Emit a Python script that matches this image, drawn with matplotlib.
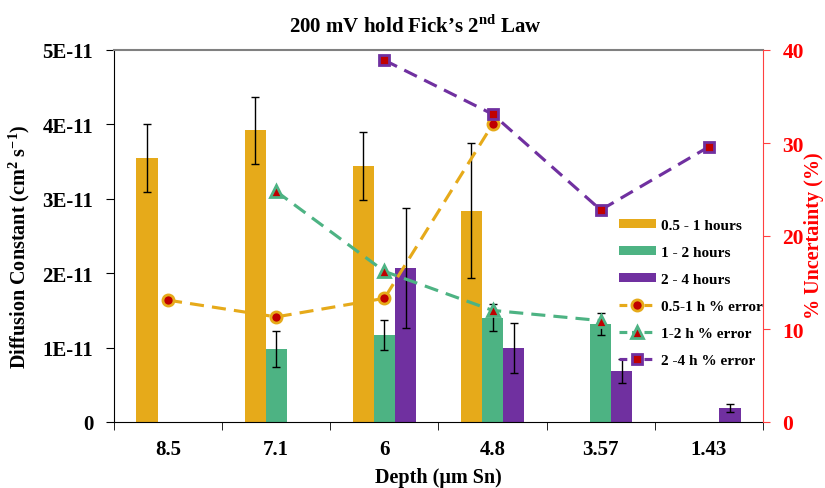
import matplotlib
matplotlib.use("Agg")
import matplotlib.pyplot as plt
import numpy as np
from matplotlib.lines import Line2D
from matplotlib.patches import Patch

plt.rcParams['font.family'] = ['Liberation Serif', 'DejaVu Serif']
plt.rcParams['mathtext.fontset'] = 'custom'
plt.rcParams['mathtext.rm'] = 'Liberation Serif'
plt.rcParams['mathtext.bf'] = 'Liberation Serif:bold'

depths = ["8.5", "7.1", "6", "4.8", "3.57", "1.43"]

# Diffusion constants (cm^2/s), None = no bar
d_05_1 = [3.55e-11, 3.92e-11, 3.44e-11, 2.84e-11, None, None]
e_05_1 = [0.46e-11, 0.45e-11, 0.46e-11, 0.91e-11, None, None]
d_1_2 = [None, 0.98e-11, 1.17e-11, 1.40e-11, 1.32e-11, None]
e_1_2 = [None, 0.245e-11, 0.20e-11, 0.18e-11, 0.15e-11, None]
d_2_4 = [None, None, 2.07e-11, 0.99e-11, 0.69e-11, 0.19e-11]
e_2_4 = [None, None, 0.81e-11, 0.335e-11, 0.16e-11, 0.055e-11]

# % uncertainty
p_05_1 = [13.1, 11.3, 13.3, 32.0, None, None]
p_1_2 = [None, 24.8, 16.2, 12.0, 10.9, None]
p_2_4 = [None, None, 38.9, 33.1, 22.8, 29.6]

c_or = '#E6AA1A'
c_gr = '#4DB383'
c_pu = '#7030A0'
c_red = '#C00000'

fig = plt.figure(figsize=(8.25, 4.89), dpi=100)
ax = fig.add_axes([114/825, 1-423/489, (763-114)/825, (423-51)/489])
ax2 = ax.twinx()

x = np.arange(len(depths))
w = 0.195

def arr(v):
    return np.array([np.nan if a is None else a for a in v], dtype=float)

for vals, errs, off, col, lab in [(d_05_1, e_05_1, -w, c_or, '0.5 - 1 hours'),
                                  (d_1_2, e_1_2, 0, c_gr, '1 - 2 hours'),
                                  (d_2_4, e_2_4, w, c_pu, '2 - 4 hours')]:
    v = arr(vals); e = arr(errs)
    m = ~np.isnan(v)
    ax.bar(x[m] + off, v[m], width=w, color=col, zorder=2)
    ax.errorbar(x[m] + off, v[m], yerr=e[m], fmt='none', ecolor='black',
                elinewidth=1, capsize=3, capthick=1, zorder=3)

ax.set_xlim(-0.5, len(depths) - 0.5)
ax.set_ylim(0, 5e-11)
ax.set_yticks([0, 1e-11, 2e-11, 3e-11, 4e-11, 5e-11])
ax.set_yticklabels(['0', '1E-11', '2E-11', '3E-11', '4E-11', '5E-11'],
                   fontsize=15, fontweight='bold')
ax.set_xticks(x)
ax.set_xticklabels(depths, fontsize=15, fontweight='bold')
ax.tick_params(axis='x', length=0, pad=12)
ax.set_xticks(np.arange(len(depths) + 1) - 0.5, minor=True)
ax.tick_params(axis='x', which='minor', length=6, direction='out', color='black')
ax.tick_params(axis='y', length=6, direction='out', pad=9)

ax.spines['top'].set_color('#808080')
ax.spines['top'].set_linewidth(1.5)
ax.spines['right'].set_visible(False)
ax2.spines['top'].set_visible(False)
ax2.spines['left'].set_visible(False)
ax2.spines['bottom'].set_visible(False)
ax2.spines['right'].set_color('#FF4040')

ax.set_ylabel('Diffusion Constant (cm$^\\mathbf{2}$ s$^\\mathbf{-1}$)',
              fontsize=14.5, fontweight='bold')
ax.yaxis.set_label_coords((32 - 114) / 649, (423 - 247) / 372)
ax.set_xlabel('Depth (\u03bcm Sn)', fontsize=14.5, fontweight='bold')
ax.xaxis.set_label_coords((438 - 114) / 649, -(468 - 423) / 372)
fig.text(415/825, 1 - 27/489, '200 mV hold Fick\u2019s 2$^\\mathbf{nd}$ Law',
         fontsize=15, fontweight='bold', ha='center', va='center')

ax2.set_ylim(0, 40)
ax2.set_yticks([0, 10, 20, 30, 40])
ax2.set_yticklabels(['0', '10', '20', '30', '40'], fontsize=15.5,
                    fontweight='bold', color='#FF0000')
ax2.tick_params(axis='y', length=5, direction='out', color='#FF4040', pad=9)
ax2.set_ylabel('% Uncertainty (%)', fontsize=14.5, fontweight='bold',
               color='#FF0000')
ax2.yaxis.set_label_coords((804 - 114) / 649, (423 - 236) / 372)

dash = (0, (4.5, 2.6))
lw = 2.25
for vals, col, mk, lab in [(p_05_1, c_or, 'o', '0.5-1 h % error'),
                           (p_1_2, c_gr, '^', '1-2 h % error'),
                           (p_2_4, c_pu, 's', '2 -4 h % error')]:
    v = arr(vals)
    m = ~np.isnan(v)
    ax2.plot(x[m], v[m], linestyle=dash, color=col, linewidth=lw,
             marker=mk, markersize=8 if mk != 's' else 7,
             markerfacecolor=c_red, markeredgecolor=col, markeredgewidth=2,
             zorder=4)

hdash = (0, (2.5, 1.5))
handles = [
    Patch(facecolor=c_or, label='0.5 - 1 hours'),
    Patch(facecolor=c_gr, label='1 - 2 hours'),
    Patch(facecolor=c_pu, label='2 - 4 hours'),
    Line2D([], [], linestyle=hdash, color=c_or, linewidth=lw, marker='o',
           markersize=8, markerfacecolor=c_red, markeredgecolor=c_or,
           markeredgewidth=2, label='0.5-1 h % error'),
    Line2D([], [], linestyle=hdash, color=c_gr, linewidth=lw, marker='^',
           markersize=8, markerfacecolor=c_red, markeredgecolor=c_gr,
           markeredgewidth=2, label='1-2 h % error'),
    Line2D([], [], linestyle=hdash, color=c_pu, linewidth=lw, marker='s',
           markersize=7, markerfacecolor=c_red, markeredgecolor=c_pu,
           markeredgewidth=2, label='2 -4 h % error'),
]
leg = ax2.legend(handles=handles, loc='upper left',
                 bbox_to_anchor=((619 - 114) / 649, (423 - 220) / 372),
                 frameon=False, prop={'family': 'Liberation Serif',
                                      'weight': 'bold', 'size': 11},
                 handlelength=2.42, handleheight=0.5, labelspacing=0.92,
                 handletextpad=0.33, borderaxespad=0, borderpad=0)

fig.savefig('out.png', dpi=100)
